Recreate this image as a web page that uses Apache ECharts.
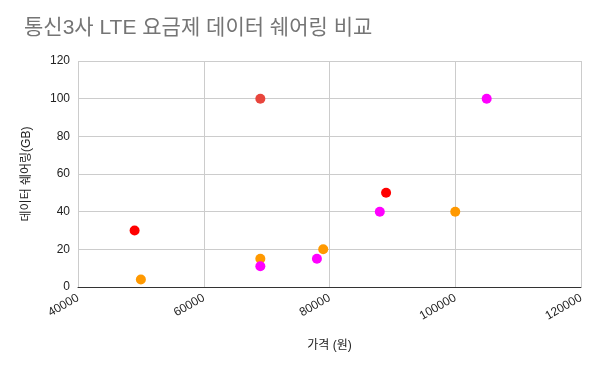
<!DOCTYPE html>
<html><head><meta charset="utf-8">
<script src="https://cdn.jsdelivr.net/npm/echarts@6/dist/echarts.min.js"></script>
<style>html,body{margin:0;padding:0;background:#fff}#c{width:600px;height:371px}</style>
</head><body><div id="c"></div>
<script>
const title = '통신3사 LTE 요금제 데이터 쉐어링 비교';
const xName = '가격 (원)';
const yName = '데이터 쉐어링(GB)';
const redPrices = [49000, 69000, 89000];
const redData = [30, 100, 50];
const orangePrices = [50000, 69000, 79000, 100000];
const orangeData = [4, 15, 20, 40];
const magentaPrices = [69000, 78000, 88000, 105000];
const magentaData = [11, 15, 40, 100];
const font = '"Liberation Sans", Arial, "Noto Sans CJK KR", sans-serif';
function pts(xs, ys, special) {
  return xs.map((x, i) => {
    const p = {value: [x, ys[i]]};
    if (special && special[i]) p.itemStyle = {color: special[i]};
    return p;
  });
}
const chart = echarts.init(document.getElementById('c'));
chart.setOption({
  animation: false,
  title: {text: title, left: 19, top: 13, textStyle: {fontFamily: font, fontSize: 21, fontWeight: 'normal', color: '#757575'}},
  grid: {left: 78, right: 19, top: 61, bottom: 84},
  xAxis: {
    type: 'value', min: 40000, max: 120000, interval: 20000,
    name: xName, nameLocation: 'middle', nameGap: 53,
    nameTextStyle: {fontFamily: font, fontSize: 12, color: '#222'},
    axisLine: {show: true, lineStyle: {color: '#333'}},
    axisTick: {show: false},
    axisLabel: {rotate: 30, fontFamily: font, fontSize: 12, color: '#222', margin: 10, formatter: v => String(v)},
    splitLine: {show: true, lineStyle: {color: '#cccccc'}}
  },
  yAxis: {
    type: 'value', min: 0, max: 120, interval: 20,
    name: yName, nameLocation: 'middle', nameGap: 45,
    nameTextStyle: {fontFamily: font, fontSize: 12, color: '#222'},
    axisLine: {show: false}, axisTick: {show: false},
    axisLabel: {fontFamily: font, fontSize: 12, color: '#222', margin: 8},
    splitLine: {show: true, lineStyle: {color: '#cccccc'}}
  },
  series: [
    {type: 'scatter', symbolSize: 10, itemStyle: {color: '#ff0000', opacity: 1}, data: pts(redPrices, redData, [null, '#e8453c', null])},
    {type: 'scatter', symbolSize: 10, itemStyle: {color: '#ff9900', opacity: 1}, data: pts(orangePrices, orangeData)},
    {type: 'scatter', symbolSize: 10, itemStyle: {color: '#ff00ff', opacity: 1}, data: pts(magentaPrices, magentaData)}
  ]
});
</script></body></html>
